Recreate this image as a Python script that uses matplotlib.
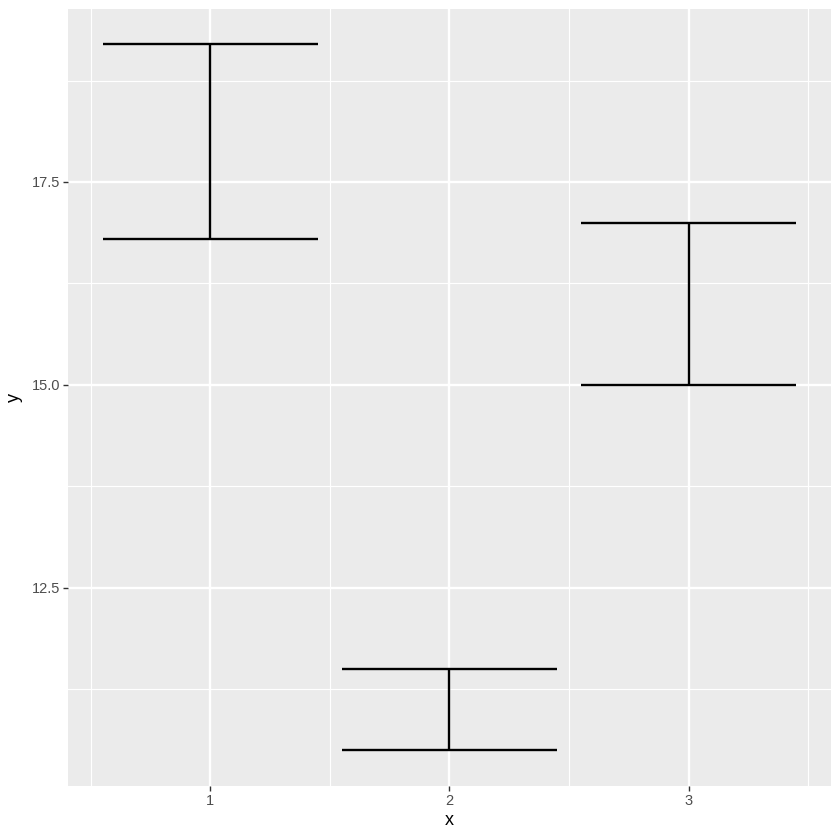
import matplotlib
matplotlib.use('Agg')
import matplotlib.pyplot as plt

plt.rcParams['font.family'] = ['Liberation Sans', 'DejaVu Sans']

# error bar data
x = [1, 2, 3]
ymin = [16.8, 10.5, 15.0]
ymax = [19.2, 11.5, 17.0]
bar_width = 0.9

yticks = [12.5, 15.0, 17.5]
ytick_labels = ['12.5', '15.0', '17.5']
xticks = [1, 2, 3]
xtick_labels = ['1', '2', '3']

dpi = 100
fig = plt.figure(figsize=(8.4, 8.4), dpi=dpi)
ax = fig.add_axes([68 / 840, 54.5 / 840, 763 / 840, 776.8 / 840])
ax.set_facecolor('#EBEBEB')
for s in ax.spines.values():
    s.set_visible(False)

# limits like ggplot (5% expansion)
x_lo = min(x) - bar_width / 2
x_hi = max(x) + bar_width / 2
dx = (x_hi - x_lo) * 0.05
ax.set_xlim(x_lo - dx, x_hi + dx)
y_lo, y_hi = min(ymin), max(ymax)
dy = (y_hi - y_lo) * 0.05
ax.set_ylim(y_lo - dy, y_hi + dy)

# grid lines
for v in [0.5, 1.5, 2.5, 3.5]:
    ax.axvline(v, color='white', lw=0.85, zorder=0)
for v in xticks:
    ax.axvline(v, color='white', lw=1.7, zorder=0)
for v in [11.25, 13.75, 16.25, 18.75]:
    ax.axhline(v, color='white', lw=0.85, zorder=0)
for v in yticks:
    ax.axhline(v, color='white', lw=1.7, zorder=0)

# error bars
for xi, lo, hi in zip(x, ymin, ymax):
    ax.vlines(xi, lo, hi, color='black', lw=1.7, zorder=3)
    ax.hlines([lo, hi], xi - bar_width / 2, xi + bar_width / 2, color='black', lw=1.7, zorder=3)

ax.set_xticks(xticks)
ax.set_xticklabels(xtick_labels)
ax.set_yticks(yticks)
ax.set_yticklabels(ytick_labels)
ax.tick_params(axis='both', length=3.3, width=1.0, color='#333333',
               labelcolor='#4D4D4D', labelsize=10.5, pad=2.5)

ax.set_xlabel('x', fontsize=13, labelpad=3)
ax.set_ylabel('y', fontsize=13, labelpad=6)

fig.savefig('out.png', dpi=dpi)
